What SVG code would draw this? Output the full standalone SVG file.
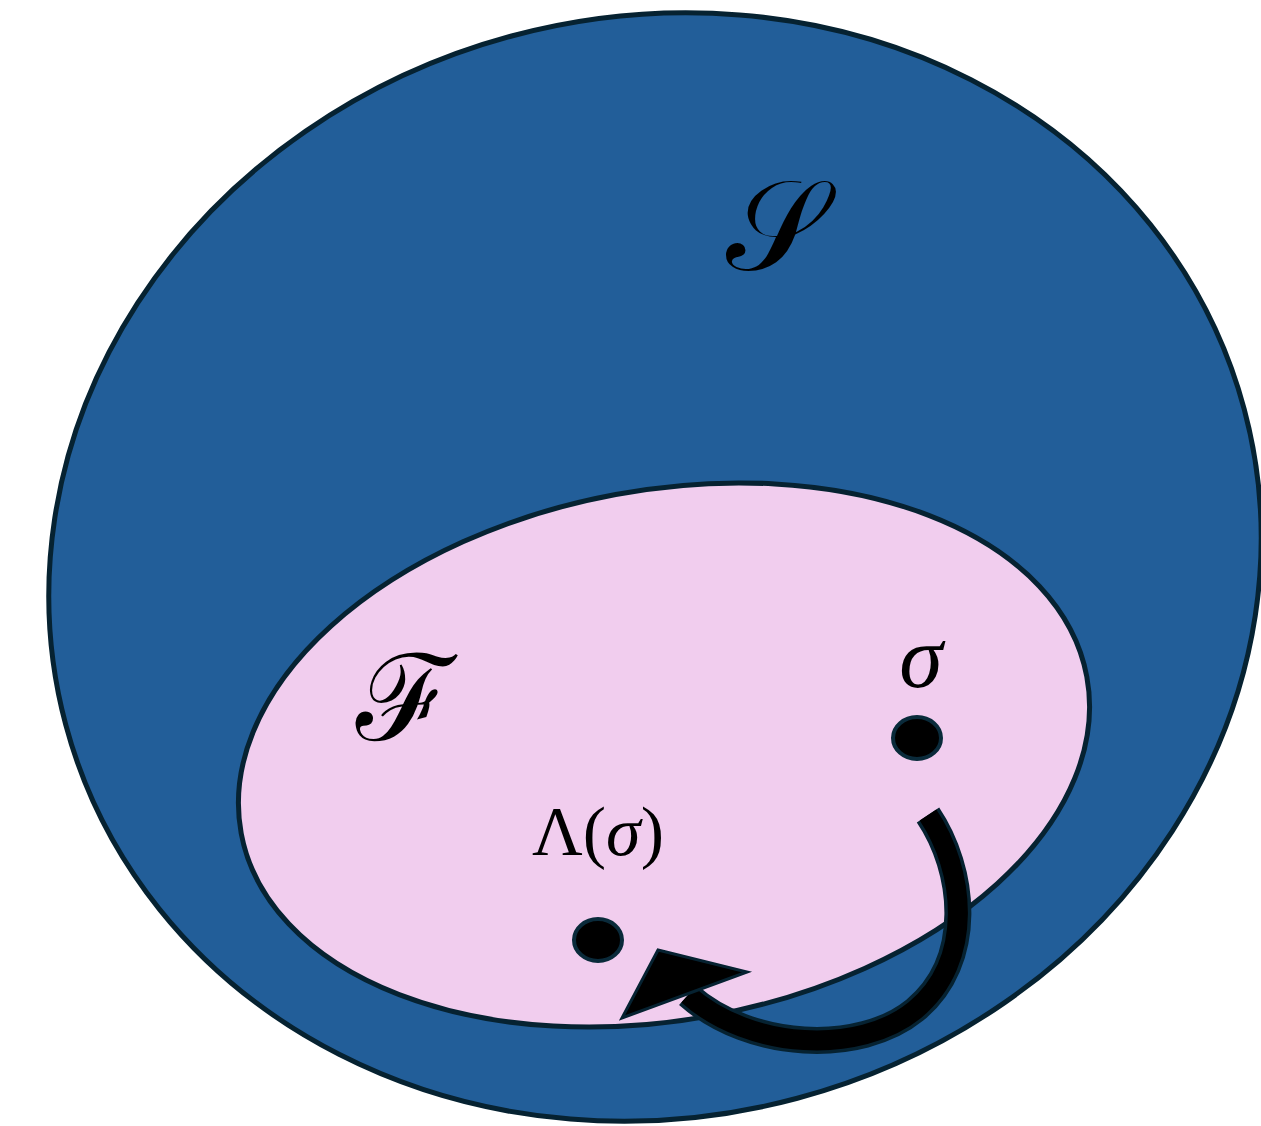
<svg xmlns="http://www.w3.org/2000/svg" width="1261" height="1126" viewBox="0 0 1261 1126">
<style>
.outline{stroke:#062231;stroke-width:5}
.lbl{font-family:"Liberation Serif","DejaVu Serif",serif;fill:#000}
.it{font-style:italic}
.dot{fill:#000;stroke:#0a2a3a;stroke-width:4}
</style>
<rect width="1261" height="1126" fill="#fff"/>
<g id="set-S">
<ellipse cx="655" cy="567" rx="610" ry="550" transform="rotate(-15 655 567)" fill="#225e99" class="outline"/>
<text class="lbl" x="775" y="270" font-size="128" text-anchor="middle" font-family="DejaVu Sans, serif">𝒮</text>
</g>
<g id="set-F">
<ellipse cx="664" cy="755" rx="430" ry="265" transform="rotate(-10.5 664 755)" fill="#f1cdee" class="outline"/>
<text class="lbl" x="405" y="740" font-size="120" text-anchor="middle" font-family="DejaVu Sans, serif">ℱ</text>
</g>
<g id="node-sigma">
<text class="lbl it" x="921" y="687" font-size="88" text-anchor="middle">σ</text>
<ellipse class="dot" cx="917" cy="738" rx="24" ry="21"/>
</g>
<g id="node-lambda">
<text class="lbl" x="598" y="855" font-size="70" text-anchor="middle">Λ(<tspan class="it">σ</tspan>)</text>
<ellipse class="dot" cx="598" cy="940" rx="24" ry="21"/>
</g>
<g id="connectors">
<path d="M 928 815 C 965 870 975 960 915 1010 C 860 1055 750 1050 688 995" fill="none" stroke="#062231" stroke-width="27"/>
<path d="M 928 815 C 965 870 975 960 915 1010 C 860 1055 750 1050 688 995" fill="none" stroke="#000" stroke-width="20"/>
<polygon points="658,950 747,972 622,1018" fill="#000" stroke="#062231" stroke-width="3" stroke-linejoin="miter"/>
</g>
</svg>
